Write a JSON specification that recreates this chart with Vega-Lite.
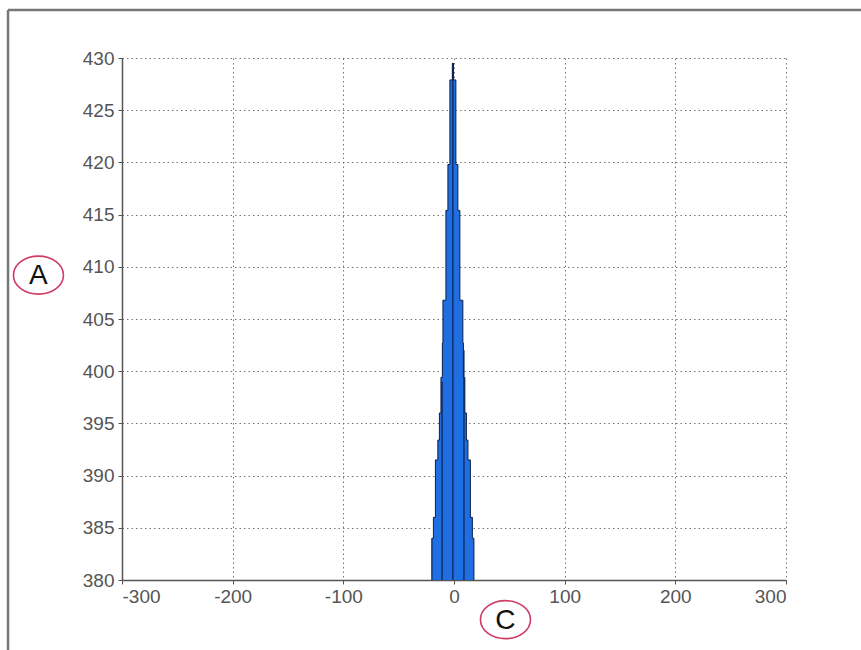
{
  "$schema": "https://vega.github.io/schema/vega-lite/v6.json",
  "width": 664,
  "height": 522,
  "autosize": {"type": "none"},
  "padding": {"left": 122, "top": 58, "right": 75, "bottom": 70},
  "background": "white",
  "config": {
    "view": {"stroke": null},
    "font": "Liberation Sans",
    "axis": {
      "labelFont": "Liberation Sans",
      "labelFontSize": 19,
      "labelColor": "#555555",
      "domainColor": "#555555",
      "domainWidth": 1.5,
      "tickColor": "#555555",
      "tickSize": 4,
      "gridColor": "#555555",
      "gridDash": [1.5, 3],
      "gridOpacity": 0.8,
      "title": null
    }
  },
  "datasets": {
    "profile": [
      {"x": -20, "h": 384, "base": 380},
      {"x": -18.6, "h": 386, "base": 380},
      {"x": -16.8, "h": 391.5, "base": 380},
      {"x": -14.6, "h": 393.4, "base": 380},
      {"x": -13.2, "h": 396, "base": 380},
      {"x": -11.8, "h": 399.4, "base": 380},
      {"x": -10.5, "h": 402.7, "base": 380},
      {"x": -10, "h": 406.8, "base": 380},
      {"x": -7.3, "h": 415.4, "base": 380},
      {"x": -5.5, "h": 419.8, "base": 380},
      {"x": -3.7, "h": 427.9, "base": 380},
      {"x": -1.5, "h": 429.5, "base": 380},
      {"x": -0.5, "h": 427.9, "base": 380},
      {"x": 1.7, "h": 419.8, "base": 380},
      {"x": 3.5, "h": 415.4, "base": 380},
      {"x": 5.3, "h": 406.8, "base": 380},
      {"x": 8, "h": 402.7, "base": 380},
      {"x": 8.5, "h": 399.4, "base": 380},
      {"x": 9.8, "h": 396, "base": 380},
      {"x": 11.2, "h": 393.4, "base": 380},
      {"x": 12.6, "h": 391.5, "base": 380},
      {"x": 14.8, "h": 386, "base": 380},
      {"x": 16.6, "h": 384, "base": 380},
      {"x": 18, "h": 380, "base": 380}
    ],
    "inner": [
      {"x": -20, "top": 384, "base": 380},
      {"x": -10.8, "top": 399, "base": 380},
      {"x": -1, "top": 429.5, "base": 380},
      {"x": 9, "top": 402, "base": 380}
    ],
    "frame": [
      {"x1": -403, "x2": -403, "y1": 434.6, "y2": 370},
      {"x1": -403, "x2": 380, "y1": 434.6, "y2": 434.6}
    ],
    "marks": [
      {"label": "A", "x": -375.5, "y": 409.2},
      {"label": "C", "x": 46.5, "y": 376.2}
    ]
  },
  "layer": [
    {
      "data": {"name": "profile"},
      "mark": {"type": "area", "interpolate": "step-after", "color": "#1f6fe3"},
      "encoding": {
        "x": {"field": "x", "type": "quantitative",
              "scale": {"domain": [-300, 300], "nice": false, "zero": false},
              "axis": {"values": [-300, -200, -100, 0, 100, 200, 300], "grid": true, "labelPadding": 3, "labelExpr": "'' + datum.value"}},
        "y": {"field": "h", "type": "quantitative",
              "scale": {"domain": [380, 430], "nice": false, "zero": false},
              "axis": {"values": [380, 385, 390, 395, 400, 405, 410, 415, 420, 425, 430], "grid": true, "labelPadding": 4, "labelExpr": "'' + datum.value"}},
        "y2": {"field": "base"}
      }
    },
    {
      "data": {"name": "profile"},
      "mark": {"type": "line", "interpolate": "step-after", "color": "#0b1f4a", "strokeWidth": 1},
      "encoding": {
        "x": {"field": "x", "type": "quantitative"},
        "y": {"field": "h", "type": "quantitative"}
      }
    },
    {
      "data": {"name": "inner"},
      "mark": {"type": "rule", "color": "#0b1f4a", "strokeWidth": 1.2},
      "encoding": {
        "x": {"field": "x", "type": "quantitative"},
        "y": {"field": "base", "type": "quantitative"},
        "y2": {"field": "top"}
      }
    },
    {
      "data": {"name": "frame"},
      "mark": {"type": "rule", "color": "#777777", "strokeWidth": 2.5, "clip": false},
      "encoding": {
        "x": {"field": "x1", "type": "quantitative"},
        "x2": {"field": "x2"},
        "y": {"field": "y1", "type": "quantitative"},
        "y2": {"field": "y2"}
      }
    },
    {
      "data": {"name": "marks"},
      "mark": {"type": "point", "shape": "M -1 0 A 1 0.76 0 1 1 1 0 A 1 0.76 0 1 1 -1 0 Z", "size": 2500, "filled": false, "color": "#d03c64", "strokeWidth": 1.6, "opacity": 1, "clip": false},
      "encoding": {
        "x": {"field": "x", "type": "quantitative"},
        "y": {"field": "y", "type": "quantitative"}
      }
    },
    {
      "data": {"name": "marks"},
      "mark": {"type": "text", "font": "Liberation Sans", "fontSize": 28, "color": "#111111", "baseline": "middle", "align": "center", "dy": 1, "clip": false},
      "encoding": {
        "x": {"field": "x", "type": "quantitative"},
        "y": {"field": "y", "type": "quantitative"},
        "text": {"field": "label"}
      }
    }
  ]
}
